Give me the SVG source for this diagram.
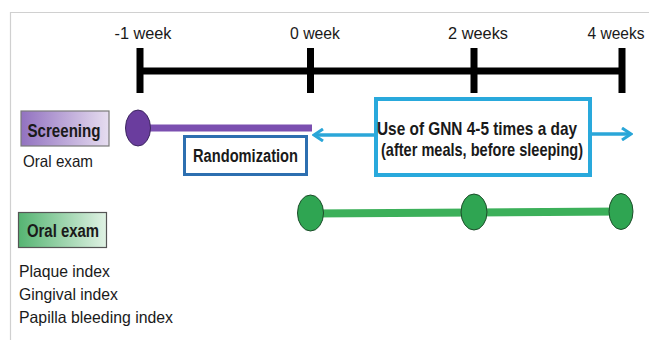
<svg xmlns="http://www.w3.org/2000/svg" width="649" height="340" viewBox="0 0 649 340">
<defs>
<style>
text{font-family:"Liberation Sans Narrow","Liberation Sans",Arial,sans-serif;fill:#1a1a1a}
.lbl{font-size:17px}
.b{font-weight:bold}
.tl{stroke:#000;stroke-width:7;fill:none}
.arr{stroke:#2aa6d8;stroke-width:3.5;fill:none}
</style>
<linearGradient id="gp" x1="0" x2="1" y1="0" y2="0">
<stop offset="0" stop-color="#9272c0"/><stop offset="1" stop-color="#e6ddf0"/>
</linearGradient>
<linearGradient id="gg" x1="0" x2="1" y1="0" y2="0">
<stop offset="0" stop-color="#55b472"/><stop offset="1" stop-color="#e0f2e4"/>
</linearGradient>
<marker id="chev" viewBox="0 0 12 14" refX="10" refY="7" markerWidth="12" markerHeight="14" markerUnits="userSpaceOnUse" orient="auto">
<path d="M1,1 L10,7 L1,13" fill="none" stroke="#2aa6d8" stroke-width="3"/>
</marker>
</defs>
<rect width="649" height="340" fill="#fff"/>
<path d="M10.5,340 V12.5 H649" fill="none" stroke="#d0d0d0" stroke-width="1.2"/>

<g id="timeline">
<path class="tl" d="M140,71 H622" stroke-width="8"/>
<path class="tl" d="M140,48 V93 M310.5,48 V93 M474,48 V93 M622,48 V93" stroke-width="6.5"/>
<text class="lbl" x="143" y="39" text-anchor="middle" textLength="57" lengthAdjust="spacingAndGlyphs">-1 week</text>
<text class="lbl" x="315" y="39" text-anchor="middle" textLength="50" lengthAdjust="spacingAndGlyphs">0 week</text>
<text class="lbl" x="478" y="39" text-anchor="middle" textLength="60" lengthAdjust="spacingAndGlyphs">2 weeks</text>
<text class="lbl" x="616" y="39" text-anchor="middle" textLength="57" lengthAdjust="spacingAndGlyphs">4 weeks</text>
</g>

<g id="connectors">
<path d="M138,128 H312" stroke="#7b4fb0" stroke-width="7" fill="none"/>
<path d="M310,213.5 L474,212.5 L621,211.5" stroke="#3cb05a" stroke-width="8" fill="none"/>
<path class="arr" d="M374,135 H314" marker-end="url(#chev)"/>
<path class="arr" d="M592,134 H631" marker-end="url(#chev)"/>
</g>

<g id="screening">
<rect x="21" y="111" width="88" height="35" fill="url(#gp)" stroke="#7a7a7a" stroke-width="1.2"/>
<text class="b" x="64" y="137" font-size="17.5" text-anchor="middle" textLength="73" lengthAdjust="spacingAndGlyphs">Screening</text>
<text x="23" y="167" font-size="16.5" textLength="70" lengthAdjust="spacingAndGlyphs">Oral exam</text>
</g>

<g id="screening-dot">
<ellipse cx="138" cy="128" rx="12.5" ry="18" fill="#6a3d9e" stroke="#3d2760" stroke-width="1"/>
</g>

<g id="randomization">
<rect x="184.5" y="136.5" width="122" height="38" fill="#fff" stroke="#2d6fb0" stroke-width="3"/>
<text class="b" x="245.5" y="162" font-size="17.5" text-anchor="middle" textLength="105" lengthAdjust="spacingAndGlyphs">Randomization</text>
</g>

<g id="gnn">
<rect x="376" y="99" width="214" height="76" fill="#fff" stroke="#29a9dc" stroke-width="4"/>
<text class="b" x="477" y="135" font-size="18.5" text-anchor="middle" textLength="200" lengthAdjust="spacingAndGlyphs">Use of GNN 4-5 times a day</text>
<text class="b" x="482" y="156" font-size="18.5" text-anchor="middle" textLength="202" lengthAdjust="spacingAndGlyphs">(after meals, before sleeping)</text>
</g>

<g id="oral-exam">
<rect x="18.5" y="212.5" width="88" height="35" fill="url(#gg)" stroke="#555" stroke-width="1.2"/>
<text class="b" x="63" y="237" font-size="17.5" text-anchor="middle" textLength="72" lengthAdjust="spacingAndGlyphs">Oral exam</text>
<text x="19" y="277" font-size="16.5" textLength="91" lengthAdjust="spacingAndGlyphs">Plaque index</text>
<text x="19" y="300" font-size="16.5" textLength="99" lengthAdjust="spacingAndGlyphs">Gingival index</text>
<text x="19" y="323" font-size="16.5" textLength="154" lengthAdjust="spacingAndGlyphs">Papilla bleeding index</text>
</g>

<g id="exam-dots">
<ellipse cx="310.5" cy="213" rx="13" ry="18" fill="#2fa552" stroke="#1e4d2b" stroke-width="1"/>
<ellipse cx="474" cy="212" rx="13" ry="18" fill="#2fa552" stroke="#1e4d2b" stroke-width="1"/>
<ellipse cx="621" cy="211.5" rx="12" ry="18" fill="#2fa552" stroke="#1e4d2b" stroke-width="1"/>
</g>
</svg>
